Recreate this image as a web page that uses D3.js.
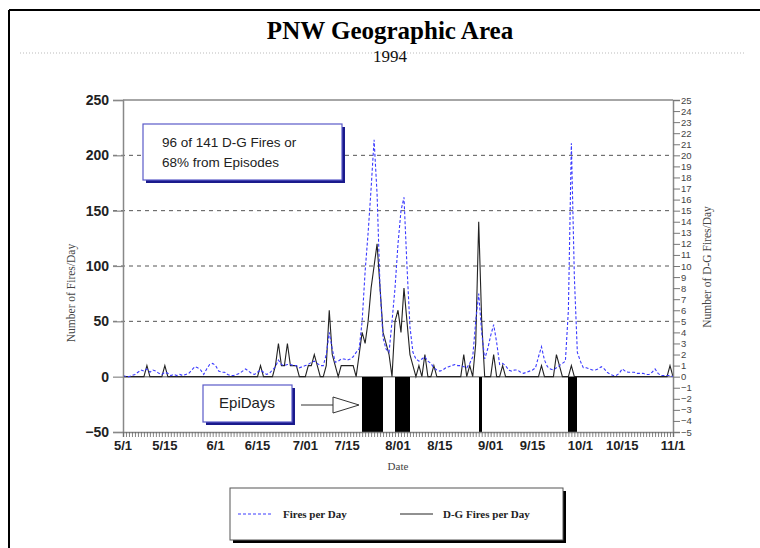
<!DOCTYPE html>
<html>
<head>
<meta charset="utf-8">
<script src="https://cdn.jsdelivr.net/npm/d3@7"></script>
<style>
  body { margin: 0; background: #fff; }
  svg { display: block; }
</style>
</head>
<body>
<div id="chart"></div>
<script>
// daily values, starting 1994-05-01 (one value per day through 11/1)
const startDate = new Date(1994, 4, 1);
const endDate = new Date(1994, 10, 1);

const firesPerDay = [
  1, 0, 0, 1, 2, 4, 6, 5, 7, 4, 6, 5, 3, 2, 4, 3, 1, 2, 1, 2,
  1, 2, 3, 6, 9, 8, 6, 2, 7, 11, 12, 10, 5, 4, 4, 2, 1, 1, 2, 3,
  5, 7, 5, 3, 2, 4, 6, 4, 2, 3, 6, 9, 15, 11, 10, 11, 11, 10, 10, 8,
  9, 10, 11, 13, 14, 12, 10, 10, 20, 40, 25, 13, 14, 16, 16, 15, 16, 18, 22, 25,
  50, 95, 130, 170, 214, 165, 80, 35, 25, 22, 50, 80, 120, 150, 162, 100, 45, 22, 16, 14,
  16, 18, 14, 12, 8, 6, 5, 6, 8, 9, 10, 11, 10, 10, 9, 8, 12, 18, 50, 75,
  40, 16, 25, 37, 47, 31, 11, 12, 10, 6, 5, 6, 6, 4, 3, 4, 5, 6, 8, 18,
  27, 15, 9, 7, 6, 8, 10, 12, 14, 60, 211, 90, 22, 14, 8, 8, 7, 6, 6, 7,
  9, 7, 4, 2, 1, 1, 3, 7, 5, 4, 4, 4, 3, 3, 3, 2, 2, 4, 7, 3,
  1, 1, 1, 1, 0
];

const dgFiresPerDay = [
  0, 0, 0, 0, 0, 0, 0, 0, 1, 0, 0, 0, 0, 0, 1, 0, 0, 0, 0, 0,
  0, 0, 0, 0, 0, 0, 0, 0, 0, 0, 0, 0, 0, 0, 0, 0, 0, 0, 0, 0,
  0, 0, 0, 0, 0, 0, 1, 0, 0, 0, 0, 1, 3, 1, 1, 3, 1, 1, 1, 0,
  0, 0, 1, 1, 2, 1, 0, 0, 1, 6, 2, 1, 0, 1, 1, 1, 1, 1, 0, 2,
  4, 3, 5, 8, 10, 12, 8, 4, 3, 2, 0, 5, 6, 4, 8, 5, 2, 1, 0, 1,
  0, 2, 0, 0, 1, 0, 0, 0, 0, 0, 0, 0, 0, 0, 2, 0, 1, 0, 3, 14,
  5, 0, 0, 0, 2, 0, 0, 1, 0, 0, 0, 0, 0, 0, 0, 0, 0, 0, 0, 0,
  1, 0, 0, 0, 0, 2, 1, 0, 0, 0, 1, 0, 0, 0, 0, 0, 0, 0, 0, 0,
  0, 0, 0, 0, 0, 0, 0, 0, 0, 0, 0, 0, 0, 0, 0, 0, 0, 0, 0, 0,
  0, 0, 0, 1, 0
];

// episode days (day index from 5/1)
const epiDays = [80, 81, 82, 83, 84, 85, 86, 91, 92, 93, 94, 95, 119, 149, 150, 151];

const leftTicks = [-50, 0, 50, 100, 150, 200, 250];
const gridValues = [50, 100, 150, 200];
const rightTicks = d3.range(-5, 26);
const dateTicks = [
  ["5/1", new Date(1994, 4, 1)], ["5/15", new Date(1994, 4, 15)],
  ["6/1", new Date(1994, 5, 1)], ["6/15", new Date(1994, 5, 15)],
  ["7/01", new Date(1994, 6, 1)], ["7/15", new Date(1994, 6, 15)],
  ["8/01", new Date(1994, 7, 1)], ["8/15", new Date(1994, 7, 15)],
  ["9/01", new Date(1994, 8, 1)], ["9/15", new Date(1994, 8, 15)],
  ["10/1", new Date(1994, 9, 1)], ["10/15", new Date(1994, 9, 15)],
  ["11/1", new Date(1994, 10, 1)]
];

const W = 760, H = 548;
const plot = {left: 123, right: 673, top: 100, bottom: 432};

const svg = d3.select("#chart").append("svg")
  .attr("width", W).attr("height", H)
  .style("font-family", "'Liberation Sans', Arial, sans-serif");

const dayDate = i => d3.timeDay.offset(startDate, i);

const x = d3.scaleTime().domain([startDate, endDate]).range([plot.left, plot.right]);
const yL = d3.scaleLinear().domain([-50, 250]).range([plot.bottom, plot.top]);
const yR = d3.scaleLinear().domain([-5, 25]).range([plot.bottom, plot.top]);

// page frame (cropped screenshot edges)
svg.append("line").attr("x1", 9).attr("x2", 9).attr("y1", 10).attr("y2", H)
  .attr("stroke", "#000").attr("stroke-width", 2);
svg.append("line").attr("x1", 9).attr("x2", W).attr("y1", 10).attr("y2", 10)
  .attr("stroke", "#000").attr("stroke-width", 2);

// title
svg.append("text").attr("x", 390).attr("y", 39).attr("text-anchor", "middle")
  .style("font-family", "'Liberation Serif', 'Times New Roman', serif")
  .style("font-weight", "bold").style("font-size", "25px").attr("fill", "#000")
  .text("PNW Geographic Area");
svg.append("line").attr("x1", 20).attr("x2", 746).attr("y1", 53).attr("y2", 53)
  .attr("stroke", "#bbb").attr("stroke-dasharray", "1,2");
svg.append("text").attr("x", 390).attr("y", 62).attr("text-anchor", "middle")
  .style("font-family", "'Liberation Serif', 'Times New Roman', serif")
  .style("font-size", "17px").attr("fill", "#111")
  .text("1994");

const g = svg.append("g");

// grid lines
g.selectAll(".grid").data(gridValues).enter().append("line")
  .attr("class", "grid")
  .attr("x1", plot.left - 10).attr("x2", plot.right)
  .attr("y1", d => yL(d)).attr("y2", d => yL(d))
  .attr("stroke", "#555").attr("stroke-dasharray", "4,4");

// plot frame: top line, zero line
g.append("line").attr("x1", plot.left).attr("x2", plot.right)
  .attr("y1", yL(250)).attr("y2", yL(250)).attr("stroke", "#888").attr("stroke-width", 1.5);
g.append("line").attr("x1", plot.left).attr("x2", plot.right)
  .attr("y1", yL(0)).attr("y2", yL(0)).attr("stroke", "#888").attr("stroke-width", 1.5);

// episode day bars
g.selectAll(".epi").data(epiDays).enter().append("rect")
  .attr("class", "epi")
  .attr("x", d => x(dayDate(d)))
  .attr("width", d => x(dayDate(d + 1)) - x(dayDate(d)))
  .attr("y", yL(0))
  .attr("height", yL(-50) - yL(0))
  .attr("fill", "#000")
  .attr("shape-rendering", "crispEdges");

// series lines
const lineL = d3.line().x((d, i) => x(dayDate(i))).y(d => yL(d));
const lineR = d3.line().x((d, i) => x(dayDate(i))).y(d => yR(d));

g.append("path").datum(dgFiresPerDay).attr("d", lineR)
  .attr("fill", "none").attr("stroke", "#222").attr("stroke-width", 1.1);
g.append("path").datum(firesPerDay).attr("d", lineL)
  .attr("fill", "none").attr("stroke", "#3a3aff").attr("stroke-width", 1.1)
  .attr("stroke-dasharray", "3,2");

// left axis
const axL = svg.append("g").attr("transform", `translate(${plot.left},0)`)
  .call(d3.axisLeft(yL).tickValues(leftTicks).tickSize(10).tickPadding(4));
axL.select(".domain").attr("stroke", "#888").attr("stroke-width", 1.5);
axL.selectAll(".tick line").attr("stroke", "#888").attr("stroke-width", 1.2);
axL.selectAll(".tick text").attr("fill", "#222")
  .style("font-size", "14px").style("font-weight", "bold")
  .style("font-family", "'Liberation Sans', Arial, sans-serif");

// right axis
const axR = svg.append("g").attr("transform", `translate(${plot.right},0)`)
  .call(d3.axisRight(yR).tickValues(rightTicks).tickSize(7).tickPadding(1));
axR.select(".domain").attr("stroke", "#888").attr("stroke-width", 1.5);
axR.selectAll(".tick line").attr("stroke", "#777");
axR.selectAll(".tick text").attr("fill", "#444")
  .style("font-size", "9.5px")
  .style("font-family", "'Liberation Sans Narrow', 'Liberation Sans', Arial, sans-serif");

// bottom axis with daily ticks
const axB = svg.append("g").attr("transform", `translate(0,${plot.bottom})`)
  .call(d3.axisBottom(x).ticks(d3.timeDay.every(1)).tickSize(5).tickFormat(""));
axB.select(".domain").attr("stroke", "#888").attr("stroke-width", 1.5);
axB.selectAll(".tick line").attr("stroke", "#666").attr("stroke-width", 0.8);

svg.append("g").selectAll("text").data(dateTicks).enter().append("text")
  .attr("x", d => x(d[1])).attr("y", 450).attr("text-anchor", "middle")
  .attr("fill", "#222").style("font-size", "13px").style("font-weight", "bold")
  .text(d => d[0]);

// axis titles
const serif = "'Liberation Serif', 'Times New Roman', serif";
svg.append("text").attr("x", 398).attr("y", 470).attr("text-anchor", "middle")
  .style("font-family", serif).style("font-size", "11px").attr("fill", "#444")
  .text("Date");
svg.append("text").attr("transform", "translate(75,293) rotate(-90)")
  .attr("text-anchor", "middle")
  .style("font-family", serif).style("font-size", "11.5px").attr("fill", "#444")
  .text("Number of Fires/Day");
svg.append("text").attr("transform", "translate(711,267) rotate(-90)")
  .attr("text-anchor", "middle")
  .style("font-family", serif).style("font-size", "11.5px").attr("fill", "#444")
  .text("Number of D-G Fires/Day");

// annotation boxes with dark shadow
function noteBox(x0, y0, w, h) {
  svg.append("rect").attr("x", x0 + 3).attr("y", y0 + 3).attr("width", w).attr("height", h)
    .attr("fill", "#1a1a8c");
  svg.append("rect").attr("x", x0).attr("y", y0).attr("width", w).attr("height", h)
    .attr("fill", "#fff").attr("stroke", "#5a5ac8").attr("stroke-width", 1.2);
}
noteBox(143, 124, 199, 56);
svg.append("text").attr("x", 162).attr("y", 147)
  .style("font-size", "13.5px").attr("fill", "#222").text("96 of 141 D-G Fires or");
svg.append("text").attr("x", 162).attr("y", 167)
  .style("font-size", "13.5px").attr("fill", "#222").text("68% from Episodes");

noteBox(203, 385, 89, 37);
svg.append("text").attr("x", 247).attr("y", 408).attr("text-anchor", "middle")
  .style("font-size", "15px").attr("fill", "#222").text("EpiDays");

// arrow
svg.append("line").attr("x1", 301).attr("x2", 333).attr("y1", 405).attr("y2", 405)
  .attr("stroke", "#333").attr("stroke-width", 1);
svg.append("path").attr("d", "M333,397 L359,405 L333,413 Z")
  .attr("fill", "#fff").attr("stroke", "#333").attr("stroke-width", 1);

// legend
svg.append("rect").attr("x", 233).attr("y", 491).attr("width", 333).attr("height", 52)
  .attr("fill", "#000");
svg.append("rect").attr("x", 230).attr("y", 488).attr("width", 333).attr("height", 52)
  .attr("fill", "#fff").attr("stroke", "#555").attr("stroke-width", 1);
svg.append("line").attr("x1", 238).attr("x2", 273).attr("y1", 514).attr("y2", 514)
  .attr("stroke", "#3a3aff").attr("stroke-dasharray", "3,2");
svg.append("text").attr("x", 283).attr("y", 518)
  .style("font-family", serif).style("font-weight", "bold").style("font-size", "11px")
  .attr("fill", "#222").text("Fires per Day");
svg.append("line").attr("x1", 400).attr("x2", 433).attr("y1", 514).attr("y2", 514)
  .attr("stroke", "#222");
svg.append("text").attr("x", 443).attr("y", 518)
  .style("font-family", serif).style("font-weight", "bold").style("font-size", "11px")
  .attr("fill", "#222").text("D-G Fires per Day");
</script>
</body>
</html>
